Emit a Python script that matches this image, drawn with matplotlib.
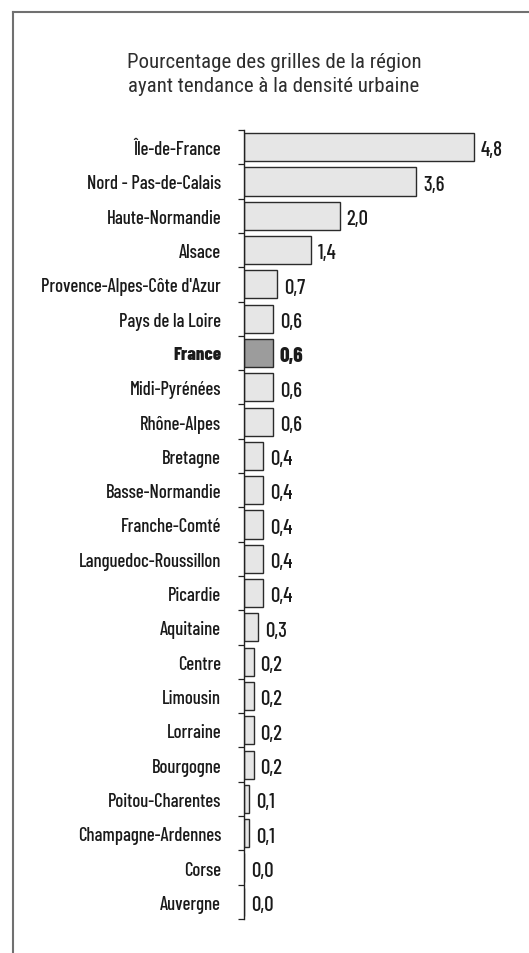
import matplotlib
matplotlib.use("Agg")
import matplotlib.pyplot as plt
from matplotlib.lines import Line2D
from matplotlib.ticker import FixedLocator
import numpy as np

regions = ["Île-de-France", "Nord - Pas-de-Calais", "Haute-Normandie", "Alsace",
           "Provence-Alpes-Côte d'Azur", "Pays de la Loire", "France", "Midi-Pyrénées",
           "Rhône-Alpes", "Bretagne", "Basse-Normandie", "Franche-Comté",
           "Languedoc-Roussillon", "Picardie", "Aquitaine", "Centre", "Limousin",
           "Lorraine", "Bourgogne", "Poitou-Charentes", "Champagne-Ardennes",
           "Corse", "Auvergne"]
values = [4.8, 3.6, 2.0, 1.4, 0.7, 0.6, 0.6, 0.6, 0.6, 0.4, 0.4, 0.4, 0.4, 0.4,
          0.3, 0.2, 0.2, 0.2, 0.2, 0.1, 0.1, 0.0, 0.0]
highlight = "France"
title_lines = ["Pourcentage des grilles de la région",
               "ayant tendance à la densité urbaine"]

LABEL_FONT = ["Barlow Condensed", "DejaVu Sans"]
TITLE_FONT = ["Roboto Condensed", "DejaVu Sans"]

W, H = 529, 954
fig = plt.figure(figsize=(W / 100, H / 100), dpi=100)
fig.patch.set_facecolor("white")

# frame lines (top and left)
fig.add_artist(Line2D([13 / W, 1.0], [1 - 13 / H, 1 - 13 / H], color="#707070", lw=1.5,
                      transform=fig.transFigure))
fig.add_artist(Line2D([13 / W, 13 / W], [1 - 13 / H, 0.0], color="#707070", lw=1.5,
                      transform=fig.transFigure))

# title
fig.text(274 / W, 1 - 68 / H, title_lines[0], ha="center", va="baseline",
         fontsize=15, color="#2e2e2e", family=TITLE_FONT, fontweight="normal")
fig.text(274 / W, 1 - 92 / H, title_lines[1], ha="center", va="baseline",
         fontsize=15, color="#2e2e2e", family=TITLE_FONT, fontweight="normal")

ax_left, ax_right = 244 / W, 507 / W
ax_top, ax_bottom = 1 - 131 / H, 1 - 920 / H
ax = fig.add_axes([ax_left, ax_bottom, ax_right - ax_left, ax_top - ax_bottom])

y = np.arange(len(regions))
colors = ["#9c9c9c" if r == highlight else "#e6e6e6" for r in regions]
ax.barh(y, values, height=0.82, color=colors, edgecolor="#2b2b2b", linewidth=1.0,
        align="center", zorder=2)

ax.set_ylim(len(regions) - 0.5, -0.5)
ax.set_xlim(0, 5.5)

for s in ["top", "right", "bottom"]:
    ax.spines[s].set_visible(False)
ax.spines["left"].set_color("#222222")
ax.spines["left"].set_linewidth(1.0)
ax.set_xticks([])

ax.set_yticks(y)
ax.set_yticklabels(regions)
ax.tick_params(axis="y", which="major", length=0, pad=16.5)
ax.yaxis.set_minor_locator(FixedLocator(np.arange(-0.5, len(regions), 1.0)))
ax.tick_params(axis="y", which="minor", length=4.5, width=0.9, color="#222222",
               direction="out")
for lab in ax.get_yticklabels():
    lab.set_fontfamily(LABEL_FONT)
    lab.set_fontsize(13.5)
    lab.set_color("#1a1a1a")
    lab.set_fontweight(800 if lab.get_text() == highlight else 500)

for yi, v, r in zip(y, values, regions):
    ax.annotate(f"{v:.1f}".replace(".", ","), xy=(v, yi), xytext=(5, -2),
                textcoords="offset points", ha="left", va="center",
                fontsize=15, family=LABEL_FONT, color="#1a1a1a",
                fontweight=800 if r == highlight else 500)

fig.savefig("out.png", dpi=100)
